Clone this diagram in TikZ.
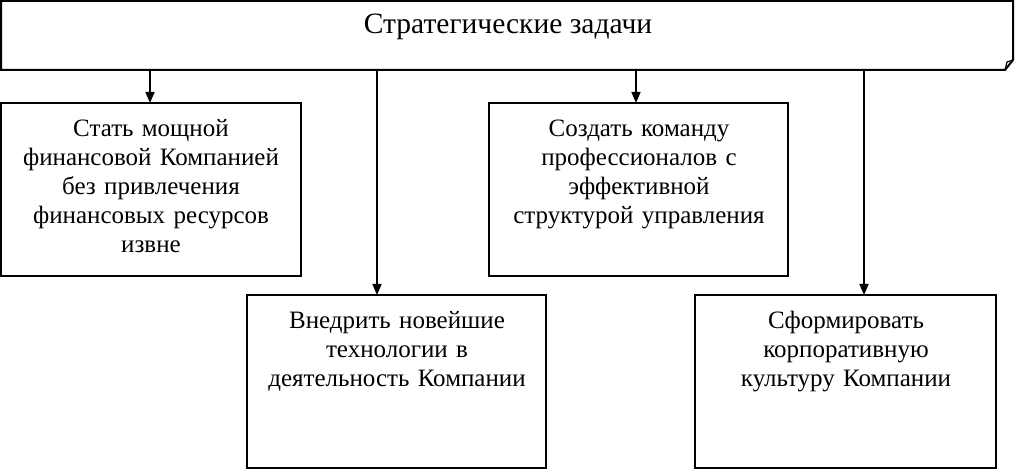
\documentclass[tikz,border=0pt]{standalone}
\usepackage{fontspec}
\setmainfont{Liberation Serif}
\usetikzlibrary{arrows.meta}
\begin{document}
\begin{tikzpicture}[x=1pt,y=-1pt,
  boxline/.style={draw=black,line width=2pt},
  lbl/.style={anchor=base,align=center,text width=296pt,font=\fontsize{25}{28.8}\selectfont,inner sep=0pt},
  arr/.style={line width=1.6pt,-{Triangle[length=11pt,width=9pt]}}]
\useasboundingbox (0,0) rectangle (1015,470);
% top box with folded corner
\draw[boxline] (1,1) -- (1013,1) -- (1013,60) -- (1005,70) -- (1,70) -- cycle;
\draw[line width=1.2pt] (1005,70) -- (1007,62) -- (1013,60);
\node[anchor=base,inner sep=0pt,font=\fontsize{29.5}{32}\selectfont] (top) at (508,34) {Стратегические задачи};
% boxes
\draw[boxline] (1,103) rectangle (301,276);
\draw[boxline] (247,295) rectangle (546,468);
\draw[boxline] (489,103) rectangle (788,276);
\draw[boxline] (695,295) rectangle (996,468);
\node[lbl] (b1) at (151,137) {Стать мощной\\финансовой Компанией\\без привлечения\\финансовых ресурсов\\извне};
\node[lbl] (b2) at (397,329) {Внедрить новейшие\\технологии в\\деятельность Компании};
\node[lbl] (b3) at (639,137) {Создать команду\\профессионалов с\\эффективной\\структурой управления};
\node[lbl] (b4) at (846,329) {Сформировать\\корпоративную\\культуру Компании};
% arrows
\coordinate (s1) at (150,70); \coordinate (e1) at (150,103);
\coordinate (s2) at (377,70); \coordinate (e2) at (377,295);
\coordinate (s3) at (636,70); \coordinate (e3) at (636,103);
\coordinate (s4) at (864,70); \coordinate (e4) at (864,295);
\draw[arr] (s1) -- (e1);
\draw[arr] (s2) -- (e2);
\draw[arr] (s3) -- (e3);
\draw[arr] (s4) -- (e4);
\end{tikzpicture}
\end{document}
